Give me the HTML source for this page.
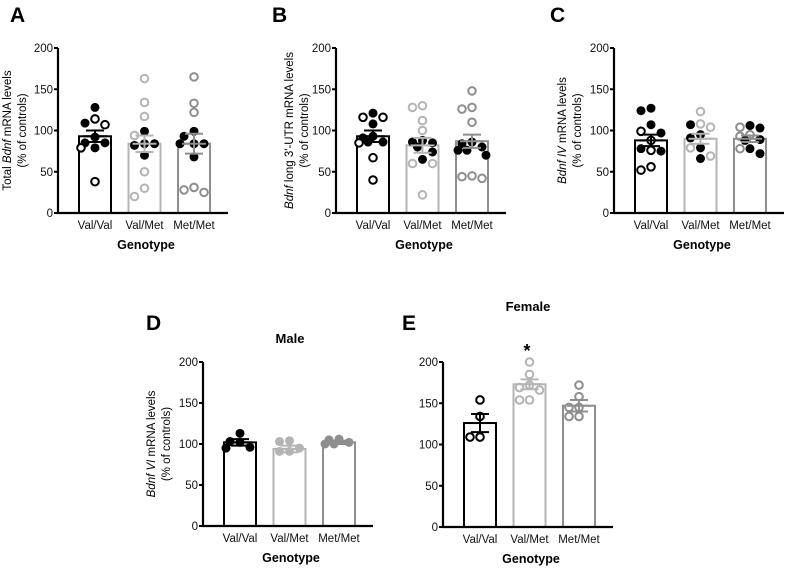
<!DOCTYPE html>
<html><head><meta charset="utf-8"><style>
html,body{margin:0;padding:0;background:#fff;}
svg{display:block;font-family:"Liberation Sans",Arial,sans-serif;}
</style></head><body>
<svg id="fig" width="785" height="571" viewBox="0 0 785 571" xmlns="http://www.w3.org/2000/svg"></svg>
<script>
const categories = ["Val/Val","Val/Met","Met/Met"];
const yTicks = [0,50,100,150,200];
// Panel A
const aFilled = [[128,109,92,85,85,79],[99,84,84,82,70],[99,93,84,84,84,68]];
const aOpen   = [[114,107,79,38],[163,134,117,94,50,30,20],[165,133,122,31,28,25]];
const aMean = [93,84,84];
const aSem  = [7,10,12];
// Panel B
const bFilled = [[121,108,93,91,86,86],[88,86,85,80,74,65],[86,84,80,76,76,70]];
const bOpen   = [[116,116,85,67,40],[130,128,112,100,60,60,22],[148,128,126,110,45,42,44]];
const bMean = [93,82,87];
const bSem  = [7,9,8];
// Panel C
const cFilled = [[127,124,107,97,78,75],[107,95,91,79,66],[106,103,89,88,78,72]];
const cOpen   = [[99,88,76,52,56],[123,108,104,79,69],[104,95,93,78]];
const cMean = [88,90,90];
const cSem  = [7,6,4];
// Panel D (male)
const dFilled = [[113,103,102,96,95],[104,103,95,91,91],[106,105,102,100,100]];
const dOpen   = [[],[],[]];
const dMean = [102,94,102];
const dSem  = [4,4,2];
// Panel E (female)
const eFilled = [[],[],[]];
const eOpen   = [[154,134,109,109],[200,185,172,169,166,154,154],[172,158,145,145,134,134]];
const eMean = [126,173,147];
const eSem  = [11,6,7];

const NS="http://www.w3.org/2000/svg";
const svg=document.getElementById('fig');
function mk(tag,attrs,parent){const e=document.createElementNS(NS,tag);for(const k in attrs)e.setAttribute(k,attrs[k]);(parent||svg).appendChild(e);return e;}
function txt(s,attrs,parent){const e=mk('text',attrs,parent);e.textContent=s;return e;}

function drawPanel(letter,L,filled,open,mean,sem,colors,filledColors,yTitle){
  const g=mk('g',{});
  
  
  const y=v=>L.y0-(v/200)*(L.y0-L.y200);
  const x=i=>L.ox+37+i*49.5;
  const lt=txt(letter,{x:L.lx,y:L.ly,'font-size':21,'font-weight':'bold'},g);
  
  
  for(let i=0;i<3;i++){
    const b=mk('rect',{x:x(i)-16,y:y(mean[i]),width:32,height:L.y0-y(mean[i]),fill:'#fff',stroke:colors[i],'stroke-width':2},g);
    
    
  }
  for(let i=0;i<3;i++){
    const placed=[];
    const pts=filled[i].map(v=>({v,f:true})).concat(open[i].map(v=>({v,f:false})));
    pts.sort((a,b)=>b.v-a.v);
    pts.forEach(p=>{
      const py=y(p.v);
      const cands=[0,-10,10,-14,14,-5,5];
      let best=0,bestD=-1;
      for(const c of cands){
        const d=placed.length?Math.min(...placed.map(q=>Math.hypot(q.x-c,q.y-py))):99;
        if(d>=9){best=c;bestD=d;break;}
        if(d>bestD){bestD=d;best=c;}
      }
      placed.push({x:best,y:py});
      const col=p.f?filledColors[i]:colors[i];
      const c=mk('circle',{cx:x(i)+best,cy:py,r:p.f?4.5:3.8,fill:p.f?col:'#fff',stroke:col,'stroke-width':p.f?0:2},g);
      
      
    });
  }
  for(let i=0;i<3;i++){
    const eb=mk('path',{d:`M${x(i)},${y(mean[i]+sem[i])}V${y(mean[i]-sem[i])}M${x(i)-9},${y(mean[i]+sem[i])}h18M${x(i)-9},${y(mean[i]-sem[i])}h18M${x(i)-12},${y(mean[i])}h24`,stroke:colors[i],'stroke-width':2,fill:'none'},g);
    
    
  }
  const ax=mk('path',{d:`M${L.ox},${L.y200}V${L.y0}H${L.ox+170}`,stroke:'#000','stroke-width':2.2,fill:'none'},g);
  
  
  yTicks.forEach(t=>{
    mk('line',{x1:L.ox-4,x2:L.ox,y1:y(t),y2:y(t),stroke:'#000','stroke-width':2},g);
    const tl=txt(String(t),{x:L.ox-5,y:y(t)+4,'font-size':11.5,'text-anchor':'end',fill:'#111'},g);
    
    
  });
  categories.forEach((c,i)=>{
    const cl=txt(c,{x:x(i),y:L.y0+16,'font-size':11.5,'text-anchor':'middle',fill:'#111'},g);
    
    
  });
  const xt=txt('Genotype',{x:L.ox+88,y:L.y0+36,'font-size':12.5,'font-weight':'bold','text-anchor':'middle'},g);
  
  
  if(yTitle){
    const yc=(L.y0+L.y200)/2;
    const t1=mk('text',{transform:`translate(${L.t1},${yc}) rotate(-90)`,'font-size':11.5,'text-anchor':'middle'},g);
    t1.innerHTML=yTitle;
    
    
    const t2=txt('(% of controls)',{transform:`translate(${L.t1+15},${yc}) rotate(-90)`,'font-size':11.5,'text-anchor':'middle'},g);
    
    
  }
  return g;
}
const cols=['#000','#b4b4b4','#8e8e8e'];
const fcols=['#000','#000','#000'];
drawPanel('A',{ox:58,y200:48,y0:213,lx:10,ly:22,t1:11},aFilled,aOpen,aMean,aSem,cols,fcols,'Total <tspan font-style="italic">Bdnf</tspan> mRNA levels');
drawPanel('B',{ox:336,y200:48,y0:213,lx:272,ly:22,t1:293},bFilled,bOpen,bMean,bSem,cols,fcols,'<tspan font-style="italic">Bdnf</tspan> long 3\'-UTR mRNA levels');
drawPanel('C',{ox:614,y200:48,y0:213,lx:550,ly:22,t1:566},cFilled,cOpen,cMean,cSem,cols,fcols,'<tspan font-style="italic">Bdnf IV</tspan> mRNA levels');
drawPanel('D',{ox:203,y200:362,y0:526,lx:146,ly:330,t1:155},dFilled,dOpen,dMean,dSem,['#000','#b4b4b4','#8e8e8e'],['#000','#b4b4b4','#8e8e8e'],'<tspan font-style="italic">Bdnf VI</tspan> mRNA levels');
drawPanel('E',{ox:443,y200:362,y0:527,lx:402,ly:330,t1:null},eFilled,eOpen,eMean,eSem,cols,fcols,null);
const mt=txt('Male',{x:290,y:343,'font-size':13,'font-weight':'bold','text-anchor':'middle'});


const ft=txt('Female',{x:528,y:311,'font-size':13,'font-weight':'bold','text-anchor':'middle'});


const st=txt('*',{x:527,y:357,'font-size':18,'font-weight':'bold','text-anchor':'middle'});


</script>
</body></html>
